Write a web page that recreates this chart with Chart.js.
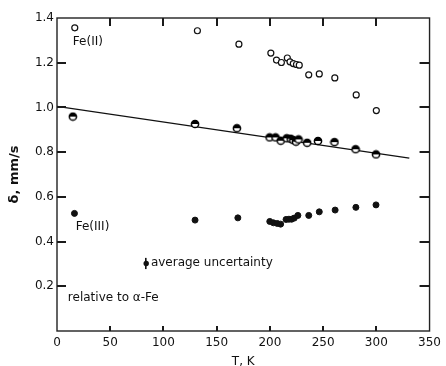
<!DOCTYPE html>
<html><head><meta charset="utf-8">
<script src="https://cdn.jsdelivr.net/npm/chart.js@4/dist/chart.umd.min.js"></script>
<style>html,body{margin:0;padding:0;background:#fff}#wrap{width:446px;height:366px}</style>
</head><body><div id="wrap"><canvas id="c" width="446" height="366"></canvas></div>
<script>
// Data
const feIIT   = [16.7,131.9,170.9,200.9,206.2,210.8,216.4,218.9,222.0,225.0,227.6,236.5,246.4,261.0,281.1,300.0];
const feIIDelta = [1.356,1.343,1.283,1.243,1.212,1.201,1.221,1.204,1.196,1.192,1.189,1.146,1.150,1.132,1.056,0.986];
const avgT    = [14.9,129.7,169.0,199.7,205.3,210.2,215.8,219.5,222.0,224.5,226.9,235.0,245.2,260.7,280.5,299.7];
const avgDelta= [0.959,0.926,0.907,0.866,0.866,0.851,0.862,0.860,0.854,0.847,0.857,0.842,0.850,0.845,0.813,0.790];
const feIIIT  = [16.4,129.7,169.9,199.9,203.3,207.0,210.1,215.2,217.9,220.4,222.9,226.3,236.5,246.4,261.3,280.8,299.7];
const feIIIDelta=[0.526,0.496,0.506,0.490,0.484,0.481,0.478,0.499,0.500,0.500,0.505,0.517,0.517,0.533,0.541,0.553,0.564];
const fitT    = [0, 331];
const fitDelta= [1.005, 0.773];
const xTicks  = [0,50,100,150,200,250,300,350];
const yTicks  = [0.2,0.4,0.6,0.8,1.0,1.2,1.4];
const uncT = [84], uncDelta = [0.302], uncErr = [0.025];
const labels = [
  {text:'Fe(II)', t:14.9, d:1.294},
  {text:'Fe(III)', t:17.6, d:0.464},
  {text:'average uncertainty', t:88.2, d:0.303},
  {text:'relative to \u03b1-Fe', t:10.2, d:0.146}
];

function pts(xs, ys){ return xs.map((x,i)=>({x:x, y:ys[i]})); }

// half-filled marker
const half = document.createElement('canvas');
half.width = 10; half.height = 10;
(function(){
  const g = half.getContext('2d');
  g.beginPath(); g.arc(5,5,3.6,0,Math.PI*2); g.fillStyle='#fff'; g.fill();
  g.beginPath(); g.arc(5,5,3.6,Math.PI,0); g.closePath(); g.fillStyle='#000'; g.fill();
  g.beginPath(); g.arc(5,5,3.6,0,Math.PI*2); g.lineWidth=1.5; g.strokeStyle='#000'; g.stroke();
})();

const FONT = "'DejaVu Sans', sans-serif";

const decor = {
  id:'decor',
  afterDraw(chart){
    const ctx = chart.ctx, a = chart.chartArea;
    const xs = chart.scales.x, ys = chart.scales.y;
    ctx.save();
    ctx.strokeStyle='#222'; ctx.lineWidth=1.4;
    ctx.strokeRect(a.left, a.top, a.right-a.left, a.bottom-a.top);
    ctx.fillStyle='#1a1a1a';
    for (let i=0;i<xTicks.length;i++){
      const v = xTicks[i];
      if (v<=0 || v>=350) continue;
      const px = Math.round(xs.getPixelForValue(v));
      ctx.fillRect(px-1, a.top, 2, 8);
      ctx.fillRect(px-1, a.bottom-5, 2, 5);
    }
    for (let i=0;i<yTicks.length;i++){
      const v = yTicks[i];
      if (v>1.35) continue;
      const py = Math.round(ys.getPixelForValue(v));
      ctx.fillRect(a.left, py-1, 9, 2);
      ctx.fillRect(a.right-10, py-1, 10, 2);
    }
    // average uncertainty symbol
    ctx.fillStyle='#111';
    uncT.forEach((t,i)=>{
      const px = xs.getPixelForValue(t), py = ys.getPixelForValue(uncDelta[i]);
      const p1 = ys.getPixelForValue(uncDelta[i]+uncErr[i]), p2 = ys.getPixelForValue(uncDelta[i]-uncErr[i]);
      ctx.fillRect(Math.round(px)-1, p1, 1.6, p2-p1);
      ctx.beginPath(); ctx.arc(px-0.2,py,2.7,0,Math.PI*2); ctx.fill();
    });
    ctx.font = "12px " + FONT;
    ctx.textBaseline='middle'; ctx.textAlign='left';
    labels.forEach(l=>{
      ctx.fillText(l.text, xs.getPixelForValue(l.t), ys.getPixelForValue(l.d));
    });
    ctx.restore();
  }
};

new Chart(document.getElementById('c'), {
  type:'scatter',
  data:{datasets:[
    {label:'fit', type:'line', data:pts(fitT,fitDelta), borderColor:'#111', borderWidth:1.3, pointRadius:0, fill:false, order:4},
    {label:'Fe(II)', data:pts(feIIT,feIIDelta), pointStyle:'circle', pointRadius:3, backgroundColor:'#fff', borderColor:'#111', borderWidth:1.2},
    {label:'avg', data:pts(avgT,avgDelta), pointStyle:half, pointRadius:4},
    {label:'Fe(III)', data:pts(feIIIT,feIIIDelta), pointStyle:'circle', pointRadius:3, backgroundColor:'#111', borderColor:'#111', borderWidth:1}
  ]},
  options:{
    responsive:false, animation:false,
    layout:{padding:{top:18, right:11, left:0, bottom:0}},
    plugins:{legend:{display:false}, tooltip:{enabled:false}},
    scales:{
      x:{type:'linear', min:0, max:350,
        afterBuildTicks(s){ s.ticks = xTicks.map(v=>({value:v})); },
        afterFit(s){ s.height = 35; },
        grid:{display:false, drawTicks:false}, border:{display:false},
        ticks:{padding:5, color:'#111', font:{family:FONT, size:12}, maxRotation:0, callback:v=>String(v)},
        title:{display:true, text:'T, K', color:'#111', font:{family:FONT, size:12}, padding:{top:0,bottom:-3}}
      },
      y:{type:'linear', min:0, max:1.4,
        afterBuildTicks(s){ s.ticks = yTicks.map(v=>({value:v})); },
        afterFit(s){ s.width = 57; },
        grid:{display:false, drawTicks:false}, border:{display:false},
        ticks:{padding:3, color:'#111', font:{family:FONT, size:12}, callback:v=>Number(v).toFixed(1)},
        title:{display:true, text:'\u03b4, mm/s', color:'#111', font:{family:FONT, size:13, weight:'bold'}, padding:{top:7,bottom:0}}
      }
    }
  },
  plugins:[decor]
});
</script></body></html>
